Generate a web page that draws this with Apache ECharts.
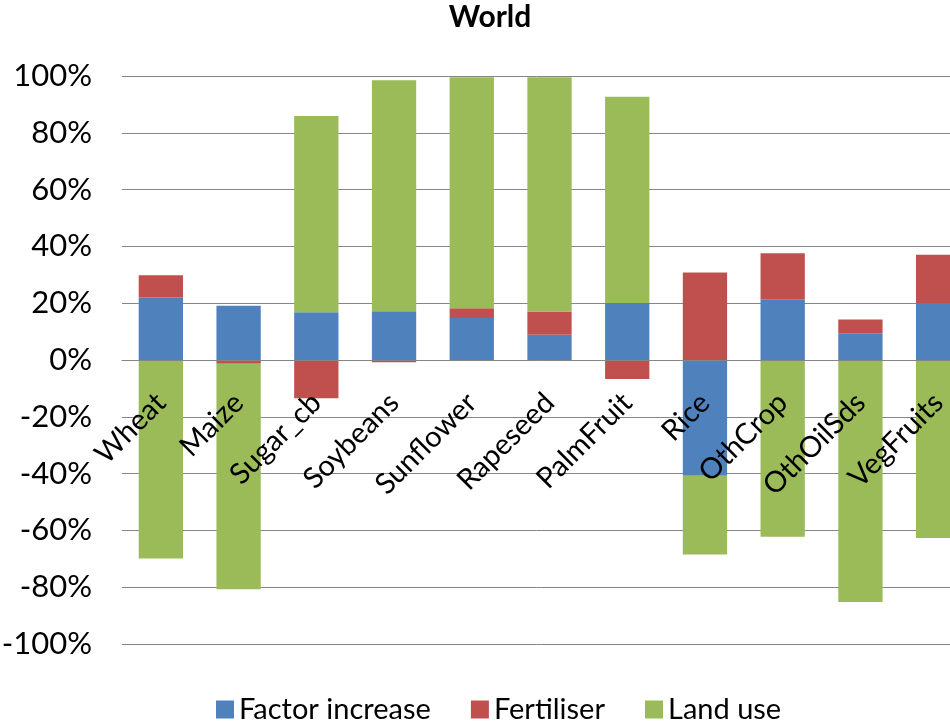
<!DOCTYPE html>
<html>
<head>
<meta charset="utf-8">
<script src="https://cdn.jsdelivr.net/npm/echarts@6/dist/echarts.min.js"></script>
<style>
html, body { margin: 0; padding: 0; background: #fff; }
#chart { width: 950px; height: 725px; }
</style>
</head>
<body>
<div id="chart"></div>
<script>
// crops
const crops = ['Wheat', 'Maize', 'Sugar_cb', 'Soybeans', 'Sunflower', 'Rapeseed', 'PalmFruit', 'Rice', 'OthCrop', 'OthOilSds', 'VegFruits'];
// contributions, in %
const factorIncrease = [22.0, 19.1, 16.8, 17.2, 14.8, 8.9, 20.1, -40.8, 21.4, 9.4, 20.0];
const fertiliser = [7.8, -1.3, -13.5, -0.8, 3.4, 8.2, -6.7, 30.8, 16.2, 4.9, 17.1];
const landUse = [-69.9, -79.4, 69.1, 81.3, 81.4, 82.5, 72.6, -27.7, -62.2, -85.2, -62.7];

const font = 'Lato, "DejaVu Sans", sans-serif';

const myChart = echarts.init(document.getElementById('chart'));

const option = {
    animation: false,
    title: {
        text: 'World',
        left: 490,
        top: 2,
        textAlign: 'center',
        padding: 0,
        textStyle: { fontFamily: font, fontSize: 30, fontWeight: 'bold', color: '#000' }
    },
    legend: {
        data: ['Factor increase', 'Fertiliser', 'Land use'],
        left: 211,
        top: 690,
        icon: 'rect',
        itemWidth: 18,
        itemHeight: 18,
        itemGap: 40,
        textStyle: { fontFamily: font, fontSize: 29, color: '#000' }
    },
    grid: {
        left: 122,
        right: -27,
        top: 76,
        bottom: 81,
        containLabel: false,
        outerBoundsMode: 'none'
    },
    xAxis: {
        type: 'category',
        data: crops,
        // labels sit on the 0% line, over the bars
        offset: -284,
        z: 10,
        axisLine: { onZero: false, lineStyle: { color: '#868686', width: 1 } },
        axisTick: { show: false },
        axisLabel: {
            rotate: 45,
            margin: 38,
            interval: 0,
            fontFamily: font,
            fontSize: 29,
            color: '#000'
        },
        splitLine: { show: false }
    },
    yAxis: {
        type: 'value',
        min: -100,
        max: 100,
        interval: 20,
        axisLine: { show: false },
        axisTick: { show: false },
        axisLabel: {
            formatter: '{value}%',
            margin: 30,
            fontFamily: font,
            fontSize: 31,
            color: '#000'
        },
        splitLine: { lineStyle: { color: '#868686', width: 1 } }
    },
    series: [
        {
            name: 'Factor increase',
            type: 'bar',
            stack: 'total',
            barWidth: '57%',
            itemStyle: { color: '#4F81BD' },
            data: factorIncrease
        },
        {
            name: 'Fertiliser',
            type: 'bar',
            stack: 'total',
            barWidth: '57%',
            itemStyle: { color: '#C0504D' },
            data: fertiliser
        },
        {
            name: 'Land use',
            type: 'bar',
            stack: 'total',
            barWidth: '57%',
            itemStyle: { color: '#9BBB59' },
            data: landUse
        }
    ]
};

myChart.setOption(option);

window.addEventListener('resize', () => {
    myChart.resize();
});
</script>
</body>
</html>
